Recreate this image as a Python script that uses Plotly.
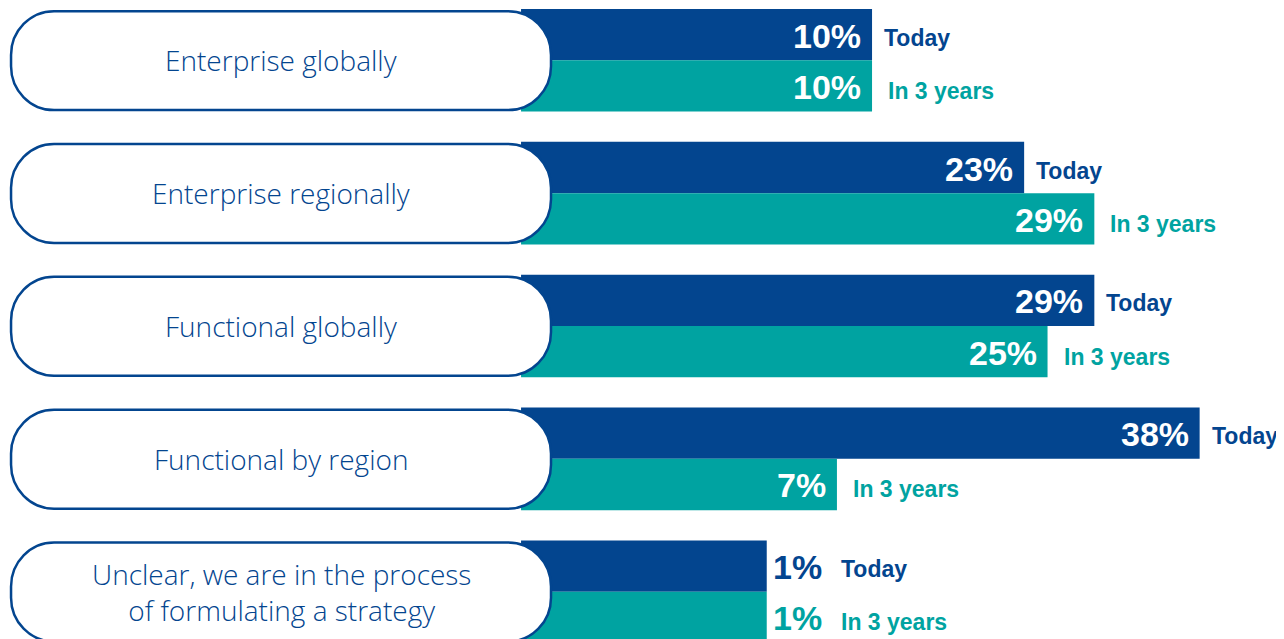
import plotly.graph_objects as go

# ---- data ----
categories = [
    "Enterprise globally",
    "Enterprise regionally",
    "Functional globally",
    "Functional by region",
    "Unclear, we are in the process<br>of formulating a strategy",
]
today = [10, 23, 29, 38, 1]
in_3_years = [10, 29, 25, 7, 1]
series_names = ["Today", "In 3 years"]

# ---- style ----
BLUE = "#03458F"
TEAL = "#00A3A1"
BAR_BASE = -20          # bars start behind the label pills
BAR_W = 0.386
OFF = 0.193
X_RANGE = [-63.85, 45.21]
Y_RANGE = [4.356, -0.3937]
PILL_X0, PILL_X1 = -63.59, -17.44
PILL_DY0, PILL_DY1 = -0.37, 0.375
RX, RY = 3.675, 0.33
VAL_FONT = "Liberation Sans, Arial, sans-serif"
LBL_FONT = "Open Sans, Roboto, sans-serif"

groups = list(range(len(categories)))

fig = go.Figure()
for vals, name, color, off in [(today, "Today", BLUE, -OFF), (in_3_years, "In 3 years", TEAL, OFF)]:
    fig.add_trace(go.Bar(
        x=[v - BAR_BASE for v in vals],
        base=[BAR_BASE] * len(vals),
        y=[g + off for g in groups],
        orientation="h",
        width=BAR_W,
        marker=dict(color=color, line=dict(width=0)),
        name=name,
        showlegend=False,
        hoverinfo="skip",
    ))

shapes = []
annotations = []
K = 0.5523


def pill_path(x0, x1, y0, y1, rx, ry):
    p = []
    p.append(f"M {x0 + rx},{y0}")
    p.append(f"L {x1 - rx},{y0}")
    p.append(f"C {x1 - rx + K * rx},{y0} {x1},{y0 + ry - K * ry} {x1},{y0 + ry}")
    p.append(f"L {x1},{y1 - ry}")
    p.append(f"C {x1},{y1 - ry + K * ry} {x1 - rx + K * rx},{y1} {x1 - rx},{y1}")
    p.append(f"L {x0 + rx},{y1}")
    p.append(f"C {x0 + rx - K * rx},{y1} {x0},{y1 - ry + K * ry} {x0},{y1 - ry}")
    p.append(f"L {x0},{y0 + ry}")
    p.append(f"C {x0},{y0 + ry - K * ry} {x0 + rx - K * rx},{y0} {x0 + rx},{y0}")
    p.append("Z")
    return " ".join(p)


for g, cat in zip(groups, categories):
    shapes.append(dict(
        type="path", xref="x", yref="y", layer="above",
        path=pill_path(PILL_X0, PILL_X1, g + PILL_DY0, g + PILL_DY1, RX, RY),
        fillcolor="white", line=dict(color=BLUE, width=2.5),
    ))
    annotations.append(dict(
        x=(PILL_X0 + PILL_X1) / 2, y=g, xref="x", yref="y",
        text=cat, showarrow=False, xanchor="center", yanchor="middle",
        font=dict(family=LBL_FONT, size=28, color=BLUE, weight=300),
        align="center",
    ))

for vals, name, color, off, lab_dy in [(today, "Today", BLUE, -OFF, -3),
                                        (in_3_years, "In 3 years", TEAL, OFF, -5)]:
    for g, v in zip(groups, vals):
        yc = g + off
        if v >= 5:
            annotations.append(dict(
                x=v, y=yc, xref="x", yref="y", text=f"{v}%", showarrow=False,
                xanchor="right", yanchor="middle", xshift=-9, yshift=-1,
                font=dict(family=VAL_FONT, size=34, color="white", weight="bold"),
            ))
            lshift = 10 if name == "Today" else 14
        else:
            annotations.append(dict(
                x=v, y=yc, xref="x", yref="y", text=f"{v}%", showarrow=False,
                xanchor="left", yanchor="middle", xshift=4, yshift=-1,
                font=dict(family=VAL_FONT, size=34, color=color, weight="bold"),
            ))
            lshift = 72
        annotations.append(dict(
            x=v, y=yc, xref="x", yref="y", text=name, showarrow=False,
            xanchor="left", yanchor="middle", xshift=lshift, yshift=lab_dy,
            font=dict(family=VAL_FONT, size=23, color=color, weight="bold"),
        ))

fig.update_layout(
    width=1276, height=631,
    margin=dict(l=0, r=0, t=0, b=0),
    paper_bgcolor="white", plot_bgcolor="white",
    barmode="overlay",
    xaxis=dict(range=X_RANGE, visible=False, fixedrange=True),
    yaxis=dict(range=Y_RANGE, visible=False, fixedrange=True),
    shapes=shapes,
    annotations=annotations,
)

fig.write_html("out.html")
